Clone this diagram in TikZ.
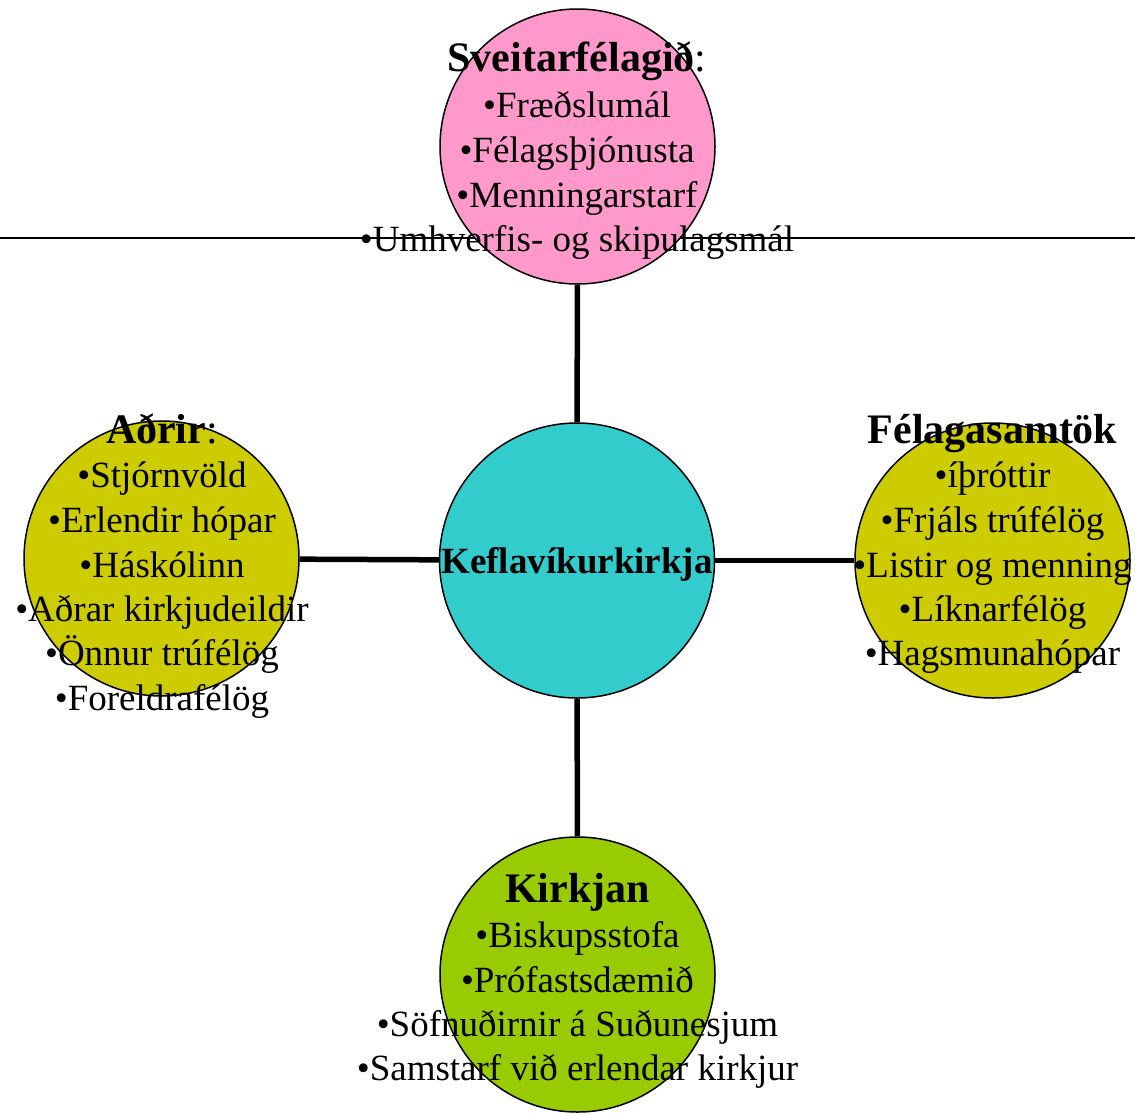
\documentclass[tikz,border=0pt]{standalone}
\usepackage{fontspec}
\setmainfont{Liberation Serif}
\definecolor{pinkc}{HTML}{FF99CC}
\definecolor{cyanc}{HTML}{33CCCC}
\definecolor{olivec}{HTML}{CCCC00}
\definecolor{greenc}{HTML}{99CC00}
\begin{document}
\begin{tikzpicture}[x=1pt,y=-1pt,
  bubble/.style={circle, draw=black, line width=1.5pt, minimum size=275pt, inner sep=0pt},
  link/.style={line width=5.5pt},
  item/.style={anchor=base, inner sep=0pt, font=\fontsize{37}{44}\selectfont},
  head/.style={anchor=base, inner sep=0pt, font=\fontsize{42}{48}\selectfont\bfseries},
  core/.style={anchor=base, inner sep=0pt, font=\fontsize{37}{44}\selectfont\bfseries}]
\useasboundingbox (0,0) rectangle (1135,1114);
\coordinate (hl) at (0,238);
\coordinate (hr) at (1135,238);
\draw[line width=2.2pt] (hl) -- (hr);
% circles
\node[bubble, fill=pinkc] (top) at (577.5,146.5) {};
\node[bubble, fill=cyanc] (mid) at (577,560.5) {};
\node[bubble, fill=olivec] (left) at (161.5,558.5) {};
\node[bubble, fill=olivec] (right) at (992.5,560.5) {};
\node[bubble, fill=greenc] (bot) at (577.5,974.5) {};
% connectors
\draw[link] (top) -- (mid);
\draw[link] (mid) -- (bot);
\draw[link] (left) -- (mid);
\draw[link] (mid) -- (right);
% texts
\node[core] (midtxt) at (577,573) {Keflavíkurkirkja};
\node[head] (toph) at (577,71) {Sveitarfélagið\textmd{:}};
\foreach \yy/\tt [count=\i] in {117/•Fræðslumál,162/•Félagsþjónusta,207/•Menningarstarf,251/•Umhverfis- og skipulagsmál}
  \node[item] (topi\i) at (577,\yy) {\tt};
\node[head] (lefth) at (162,443) {Aðrir\textmd{:}};
\foreach \yy/\tt [count=\i] in {487/•Stjórnvöld,532/•Erlendir hópar,577/•Háskólinn,621/•Aðrar kirkjudeildir,665/•Önnur trúfélög,710/•Foreldrafélög}
  \node[item] (lefti\i) at (162,\yy) {\tt};
\node[head] (righth) at (992.5,443) {Félagasamtök};
\foreach \yy/\tt [count=\i] in {487/•íþróttir,532/•Frjáls trúfélög,577/•Listir og menning,621/•Líknarfélög,665/•Hagsmunahópar}
  \node[item] (righti\i) at (992.5,\yy) {\tt};
\node[head] (both) at (577.5,902) {Kirkjan};
\foreach \yy/\tt [count=\i] in {947/•Biskupsstofa,992/•Prófastsdæmið,1036/•Söfnuðirnir á Suðunesjum,1080/•Samstarf við erlendar kirkjur}
  \node[item] (boti\i) at (577.5,\yy) {\tt};
\end{tikzpicture}
\end{document}
